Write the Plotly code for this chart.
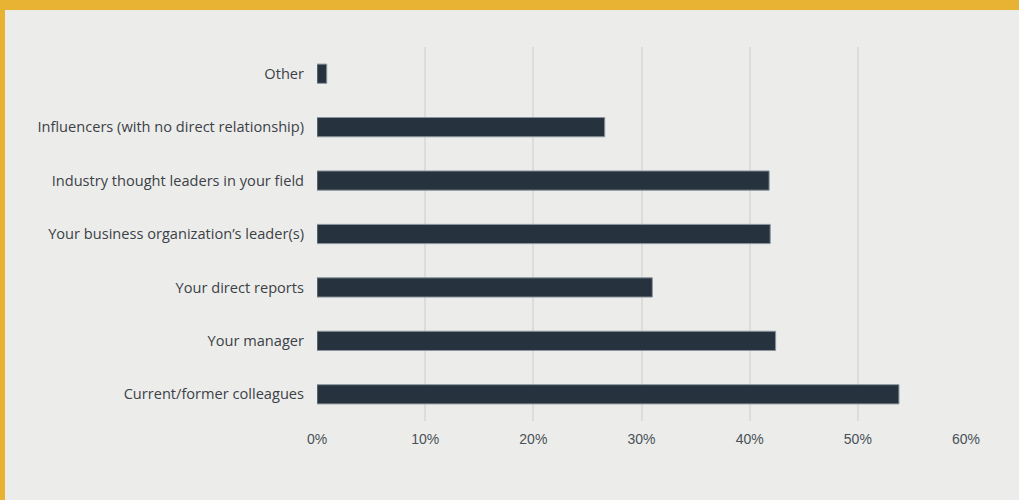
import plotly.graph_objects as go

# Survey responses: share of respondents naming each source
categories = [
    "Current/former colleagues",
    "Your manager",
    "Your direct reports",
    "Your business organization\u2019s leader(s)",
    "Industry thought leaders in your field",
    "Influencers (with no direct relationship)",
    "Other",
]
shares = [53.8, 42.4, 31.0, 41.9, 41.8, 26.6, 0.9]
x_ticks = [0, 10, 20, 30, 40, 50, 60]
x_tick_labels = [f"{t}%" for t in x_ticks]

W, H = 1019, 500
margin = dict(l=317, r=53, t=47, b=79)
plot_w = W - margin["l"] - margin["r"]
plot_h = H - margin["t"] - margin["b"]


def px_x(p):
    return (p - margin["l"]) / plot_w


def px_y(p):
    return (H - margin["b"] - p) / plot_h


fig = go.Figure(
    go.Bar(
        x=shares,
        y=categories,
        orientation="h",
        marker=dict(color="#26333f", line=dict(color="#8a949c", width=1)),
        width=0.36,
        hoverinfo="skip",
    )
)

border = "#e8b332"
fig.update_layout(
    width=W,
    height=H,
    margin=margin,
    paper_bgcolor="#ecedea",
    plot_bgcolor="#ecedea",
    showlegend=False,
    shapes=[
        dict(type="rect", xref="paper", yref="paper", layer="above",
             x0=px_x(0), x1=px_x(W), y0=px_y(10), y1=px_y(0),
             fillcolor=border, line=dict(width=0)),
        dict(type="rect", xref="paper", yref="paper", layer="above",
             x0=px_x(0), x1=px_x(5), y0=px_y(H), y1=px_y(0),
             fillcolor=border, line=dict(width=0)),
    ],
    xaxis=dict(
        range=[0, 60],
        tickvals=x_ticks,
        ticktext=x_tick_labels,
        showgrid=True,
        gridcolor="#dcddda",
        gridwidth=2,
        zeroline=False,
        showline=False,
        ticks="",
        ticklabelstandoff=8,
        tickfont=dict(family="Liberation Sans, Arial, sans-serif", size=14, color="#4a5058"),
        fixedrange=True,
    ),
    yaxis=dict(
        range=[-0.5, 6.5],
        showgrid=False,
        zeroline=False,
        showline=False,
        ticks="",
        ticklabelstandoff=12,
        tickfont=dict(family="Open Sans, sans-serif", size=14.6, color="#3c4148"),
        fixedrange=True,
    ),
)

fig.write_html("out.html")
